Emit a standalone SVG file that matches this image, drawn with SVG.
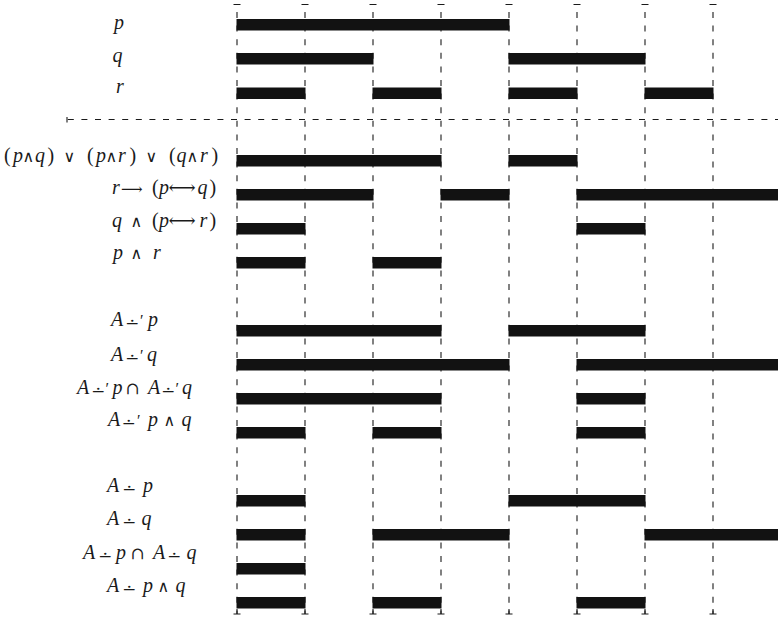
<svg xmlns="http://www.w3.org/2000/svg" width="778" height="617" viewBox="0 0 778 617">
<style>
.grid{fill:none;stroke:#1a1a1a;stroke-width:1.1;stroke-dasharray:6 7.6}
.tick{fill:none;stroke:#1a1a1a;stroke-width:1.1}
.bar{fill:#121212}
.lbl{font-family:"Liberation Serif",serif;font-size:20px;font-style:italic;fill:#1a1a1a}
.op{font-family:"Liberation Serif",serif;font-style:normal}
.m{font-family:"DejaVu Serif",serif;font-style:normal;font-size:16px}
.cap{font-family:"DejaVu Serif",serif;font-style:normal;font-size:17px}
.dm{font-family:"DejaVu Serif",serif;font-style:normal;font-size:17px}
.ar1{font-family:"DejaVu Serif",serif;font-style:normal;font-size:15px}
.ar2{font-family:"DejaVu Serif",serif;font-style:normal;font-size:19px}
.pr{font-family:"Liberation Serif","DejaVu Serif",serif;font-style:normal;font-size:16px}
</style>
<rect width="778" height="617" fill="#ffffff"/>
<g id="connectors">
<path class="grid" d="M237 12V614M305 12V614M373 12V614M441 12V614M509 12V614M577 12V614M645 12V614M713 12V614"/>
<path class="grid" d="M67.8 119.5H778"/>
<path class="tick" d="M233.5 4.5h7M301.5 4.5h7M369.5 4.5h7M437.5 4.5h7M505.5 4.5h7M573.5 4.5h7M641.5 4.5h7M709.5 4.5h7"/>
<path class="tick" d="M233.5 614h7M301.5 614h7M369.5 614h7M437.5 614h7M505.5 614h7M573.5 614h7M641.5 614h7M709.5 614h7M237 609V614M305 609V614M373 609V614M441 609V614M509 609V614M577 609V614M645 609V614M713 609V614"/>
<path class="tick" d="M67 117V122.5"/>
</g>
<g id="row-p">
<text class="lbl" x="114" y="29">p</text>
<rect class="bar" x="236.5" y="19" width="273" height="11.5"/>
</g>
<g id="row-q">
<text class="lbl" x="112.5" y="62">q</text>
<rect class="bar" x="236.5" y="53" width="137" height="11.5"/>
<rect class="bar" x="508.5" y="53" width="137" height="11.5"/>
</g>
<g id="row-r">
<text class="lbl" x="116" y="93">r</text>
<rect class="bar" x="236.5" y="87.5" width="69" height="11.5"/>
<rect class="bar" x="372.5" y="87.5" width="69" height="11.5"/>
<rect class="bar" x="508.5" y="87.5" width="69" height="11.5"/>
<rect class="bar" x="644.5" y="87.5" width="69" height="11.5"/>
</g>
<g id="row-majority">
<text class="lbl" x="4" y="162"><tspan class="op">(</tspan><tspan x="13">p</tspan><tspan class="m" x="22.5">∧</tspan><tspan x="35">q</tspan><tspan class="op" x="47.5">)</tspan><tspan class="m" x="63.5">∨</tspan><tspan class="op" x="87">(</tspan><tspan x="96">p</tspan><tspan class="m" x="105.5">∧</tspan><tspan x="118">r</tspan><tspan class="op" x="129.5">)</tspan><tspan class="m" x="145.5">∨</tspan><tspan class="op" x="169">(</tspan><tspan x="176.5">q</tspan><tspan class="m" x="186.5">∧</tspan><tspan x="200">r</tspan><tspan class="op" x="211.5">)</tspan></text>
<rect class="bar" x="236.5" y="155" width="205" height="11.5"/>
<rect class="bar" x="508.5" y="155" width="69" height="11.5"/>
</g>
<g id="row-imp">
<text class="lbl" x="112" y="194">r<tspan class="ar1" x="121">⟶</tspan><tspan class="op" x="152">(</tspan><tspan x="159">p</tspan><tspan class="ar2" x="168.5">⟷</tspan><tspan x="197.5">q</tspan><tspan class="op" x="209.5">)</tspan></text>
<rect class="bar" x="236.5" y="189" width="137" height="11.5"/>
<rect class="bar" x="440.5" y="189" width="69" height="11.5"/>
<rect class="bar" x="576.5" y="189" width="202" height="11.5"/>
</g>
<g id="row-qiff">
<text class="lbl" x="112" y="227">q<tspan class="m" x="130.5">∧</tspan><tspan class="op" x="152">(</tspan><tspan x="159">p</tspan><tspan class="ar2" x="168.5">⟷</tspan><tspan x="199.5">r</tspan><tspan class="op" x="209.5">)</tspan></text>
<rect class="bar" x="236.5" y="223" width="69" height="11.5"/>
<rect class="bar" x="576.5" y="223" width="69" height="11.5"/>
</g>
<g id="row-pr">
<text class="lbl" x="113" y="259">p<tspan class="m" x="130.5">∧</tspan><tspan x="153">r</tspan></text>
<rect class="bar" x="236.5" y="257" width="69" height="11.5"/>
<rect class="bar" x="372.5" y="257" width="69" height="11.5"/>
</g>
<g id="row-Ap1">
<text class="lbl" x="111" y="326">A<tspan class="dm" x="125" y="328.5">∸</tspan><tspan class="pr" x="140" y="326">′</tspan><tspan x="148">p</tspan></text>
<rect class="bar" x="236.5" y="325" width="205" height="11.5"/>
<rect class="bar" x="508.5" y="325" width="137" height="11.5"/>
</g>
<g id="row-Aq1">
<text class="lbl" x="111" y="361">A<tspan class="dm" x="125" y="363.5">∸</tspan><tspan class="pr" x="140" y="361">′</tspan><tspan x="147">q</tspan></text>
<rect class="bar" x="236.5" y="359" width="273" height="11.5"/>
<rect class="bar" x="576.5" y="359" width="202" height="11.5"/>
</g>
<g id="row-Apq1-cap">
<text class="lbl" x="77" y="394">A<tspan class="dm" x="91" y="396.5">∸</tspan><tspan class="pr" x="105.5" y="394">′</tspan><tspan x="112.5">p</tspan><tspan class="cap" x="125.5">∩</tspan><tspan x="148">A</tspan><tspan class="dm" x="161" y="396.5">∸</tspan><tspan class="pr" x="175.5" y="394">′</tspan><tspan x="182">q</tspan></text>
<rect class="bar" x="236.5" y="393" width="205" height="11.5"/>
<rect class="bar" x="576.5" y="393" width="69" height="11.5"/>
</g>
<g id="row-Apq1-and">
<text class="lbl" x="108" y="426">A<tspan class="dm" x="121.5" y="428.5">∸</tspan><tspan class="pr" x="137" y="426">′</tspan><tspan x="148">p</tspan><tspan class="m" x="163.5">∧</tspan><tspan x="181.5">q</tspan></text>
<rect class="bar" x="236.5" y="427" width="69" height="11.5"/>
<rect class="bar" x="372.5" y="427" width="69" height="11.5"/>
<rect class="bar" x="576.5" y="427" width="69" height="11.5"/>
</g>
<g id="row-Ap">
<text class="lbl" x="107" y="492">A<tspan class="dm" x="122" y="494.5">∸</tspan><tspan x="143" y="492">p</tspan></text>
<rect class="bar" x="236.5" y="495" width="69" height="11.5"/>
<rect class="bar" x="508.5" y="495" width="137" height="11.5"/>
</g>
<g id="row-Aq">
<text class="lbl" x="107" y="525">A<tspan class="dm" x="122" y="527.5">∸</tspan><tspan x="141.5" y="525">q</tspan></text>
<rect class="bar" x="236.5" y="529" width="69" height="11.5"/>
<rect class="bar" x="372.5" y="529" width="137" height="11.5"/>
<rect class="bar" x="644.5" y="529" width="134" height="11.5"/>
</g>
<g id="row-Apq-cap">
<text class="lbl" x="83" y="559">A<tspan class="dm" x="98" y="561.5">∸</tspan><tspan x="116" y="559">p</tspan><tspan class="cap" x="130.5">∩</tspan><tspan x="153">A</tspan><tspan class="dm" x="167" y="561.5">∸</tspan><tspan x="186.5" y="559">q</tspan></text>
<rect class="bar" x="236.5" y="563" width="69" height="11.5"/>
</g>
<g id="row-Apq-and">
<text class="lbl" x="107" y="592">A<tspan class="dm" x="122" y="594.5">∸</tspan><tspan x="143" y="592">p</tspan><tspan class="m" x="157.5">∧</tspan><tspan x="175.5">q</tspan></text>
<rect class="bar" x="236.5" y="597" width="69" height="11.5"/>
<rect class="bar" x="372.5" y="597" width="69" height="11.5"/>
<rect class="bar" x="576.5" y="597" width="69" height="11.5"/>
</g>
</svg>
